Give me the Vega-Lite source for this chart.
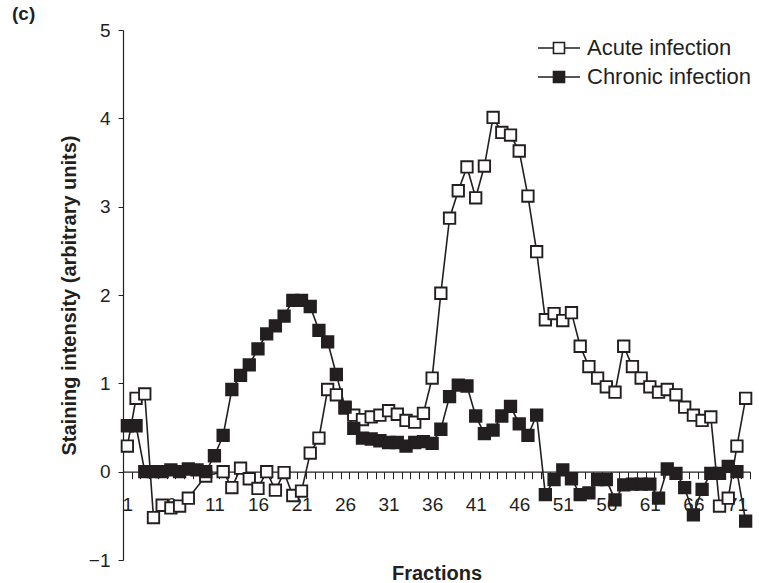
{
  "$schema": "https://vega.github.io/schema/vega-lite/v6.json",
  "width": 627,
  "height": 530,
  "autosize": "none",
  "padding": {"left": 123, "top": 30, "right": 9, "bottom": 23},
  "background": "white",
  "title": {"text": "(c)", "anchor": "start", "frame": "group", "dx": -111, "offset": -3, "fontSize": 19, "font": "Liberation Sans", "fontWeight": "bold", "color": "#231f20"},
  "config": {"view": {"stroke": null}},
  "datasets": {
    "fractions": [
      {"fraction": 1, "series": "Acute infection", "value": 0.29},
      {"fraction": 2, "series": "Acute infection", "value": 0.83},
      {"fraction": 3, "series": "Acute infection", "value": 0.88},
      {"fraction": 4, "series": "Acute infection", "value": -0.52},
      {"fraction": 5, "series": "Acute infection", "value": -0.38},
      {"fraction": 6, "series": "Acute infection", "value": -0.41},
      {"fraction": 7, "series": "Acute infection", "value": -0.39},
      {"fraction": 8, "series": "Acute infection", "value": -0.30},
      {"fraction": 10, "series": "Acute infection", "value": -0.05},
      {"fraction": 12, "series": "Acute infection", "value": 0.0},
      {"fraction": 13, "series": "Acute infection", "value": -0.18},
      {"fraction": 14, "series": "Acute infection", "value": 0.04},
      {"fraction": 15, "series": "Acute infection", "value": -0.08},
      {"fraction": 16, "series": "Acute infection", "value": -0.19},
      {"fraction": 17, "series": "Acute infection", "value": 0.0},
      {"fraction": 18, "series": "Acute infection", "value": -0.21},
      {"fraction": 19, "series": "Acute infection", "value": -0.01},
      {"fraction": 20, "series": "Acute infection", "value": -0.27},
      {"fraction": 21, "series": "Acute infection", "value": -0.22},
      {"fraction": 22, "series": "Acute infection", "value": 0.21},
      {"fraction": 23, "series": "Acute infection", "value": 0.38},
      {"fraction": 24, "series": "Acute infection", "value": 0.93},
      {"fraction": 25, "series": "Acute infection", "value": 0.87},
      {"fraction": 26, "series": "Acute infection", "value": 0.72},
      {"fraction": 27, "series": "Acute infection", "value": 0.64},
      {"fraction": 28, "series": "Acute infection", "value": 0.59},
      {"fraction": 29, "series": "Acute infection", "value": 0.62},
      {"fraction": 30, "series": "Acute infection", "value": 0.64},
      {"fraction": 31, "series": "Acute infection", "value": 0.69},
      {"fraction": 32, "series": "Acute infection", "value": 0.65},
      {"fraction": 33, "series": "Acute infection", "value": 0.58},
      {"fraction": 34, "series": "Acute infection", "value": 0.56},
      {"fraction": 35, "series": "Acute infection", "value": 0.66},
      {"fraction": 36, "series": "Acute infection", "value": 1.06},
      {"fraction": 37, "series": "Acute infection", "value": 2.02},
      {"fraction": 38, "series": "Acute infection", "value": 2.87},
      {"fraction": 39, "series": "Acute infection", "value": 3.18},
      {"fraction": 40, "series": "Acute infection", "value": 3.45},
      {"fraction": 41, "series": "Acute infection", "value": 3.10},
      {"fraction": 42, "series": "Acute infection", "value": 3.46},
      {"fraction": 43, "series": "Acute infection", "value": 4.01},
      {"fraction": 44, "series": "Acute infection", "value": 3.84},
      {"fraction": 45, "series": "Acute infection", "value": 3.81},
      {"fraction": 46, "series": "Acute infection", "value": 3.63},
      {"fraction": 47, "series": "Acute infection", "value": 3.12},
      {"fraction": 48, "series": "Acute infection", "value": 2.49},
      {"fraction": 49, "series": "Acute infection", "value": 1.72},
      {"fraction": 50, "series": "Acute infection", "value": 1.79},
      {"fraction": 51, "series": "Acute infection", "value": 1.71},
      {"fraction": 52, "series": "Acute infection", "value": 1.80},
      {"fraction": 53, "series": "Acute infection", "value": 1.42},
      {"fraction": 54, "series": "Acute infection", "value": 1.19},
      {"fraction": 55, "series": "Acute infection", "value": 1.06},
      {"fraction": 56, "series": "Acute infection", "value": 0.96},
      {"fraction": 57, "series": "Acute infection", "value": 0.90},
      {"fraction": 58, "series": "Acute infection", "value": 1.42},
      {"fraction": 59, "series": "Acute infection", "value": 1.19},
      {"fraction": 60, "series": "Acute infection", "value": 1.06},
      {"fraction": 61, "series": "Acute infection", "value": 0.96},
      {"fraction": 62, "series": "Acute infection", "value": 0.90},
      {"fraction": 63, "series": "Acute infection", "value": 0.93},
      {"fraction": 64, "series": "Acute infection", "value": 0.87},
      {"fraction": 65, "series": "Acute infection", "value": 0.73},
      {"fraction": 66, "series": "Acute infection", "value": 0.64},
      {"fraction": 67, "series": "Acute infection", "value": 0.58},
      {"fraction": 68, "series": "Acute infection", "value": 0.62},
      {"fraction": 69, "series": "Acute infection", "value": -0.39},
      {"fraction": 70, "series": "Acute infection", "value": -0.30},
      {"fraction": 71, "series": "Acute infection", "value": 0.29},
      {"fraction": 72, "series": "Acute infection", "value": 0.83},
      {"fraction": 1, "series": "Chronic infection", "value": 0.52},
      {"fraction": 2, "series": "Chronic infection", "value": 0.52},
      {"fraction": 3, "series": "Chronic infection", "value": 0.0},
      {"fraction": 4, "series": "Chronic infection", "value": 0.0},
      {"fraction": 5, "series": "Chronic infection", "value": 0.0},
      {"fraction": 6, "series": "Chronic infection", "value": 0.02},
      {"fraction": 7, "series": "Chronic infection", "value": 0.0},
      {"fraction": 8, "series": "Chronic infection", "value": 0.03},
      {"fraction": 9, "series": "Chronic infection", "value": 0.02},
      {"fraction": 10, "series": "Chronic infection", "value": 0.0},
      {"fraction": 11, "series": "Chronic infection", "value": 0.18},
      {"fraction": 12, "series": "Chronic infection", "value": 0.41},
      {"fraction": 13, "series": "Chronic infection", "value": 0.93},
      {"fraction": 14, "series": "Chronic infection", "value": 1.09},
      {"fraction": 15, "series": "Chronic infection", "value": 1.21},
      {"fraction": 16, "series": "Chronic infection", "value": 1.39},
      {"fraction": 17, "series": "Chronic infection", "value": 1.56},
      {"fraction": 18, "series": "Chronic infection", "value": 1.65},
      {"fraction": 19, "series": "Chronic infection", "value": 1.76},
      {"fraction": 20, "series": "Chronic infection", "value": 1.94},
      {"fraction": 21, "series": "Chronic infection", "value": 1.94},
      {"fraction": 22, "series": "Chronic infection", "value": 1.87},
      {"fraction": 23, "series": "Chronic infection", "value": 1.60},
      {"fraction": 24, "series": "Chronic infection", "value": 1.47},
      {"fraction": 25, "series": "Chronic infection", "value": 1.10},
      {"fraction": 26, "series": "Chronic infection", "value": 0.73},
      {"fraction": 27, "series": "Chronic infection", "value": 0.49},
      {"fraction": 28, "series": "Chronic infection", "value": 0.38},
      {"fraction": 29, "series": "Chronic infection", "value": 0.37},
      {"fraction": 30, "series": "Chronic infection", "value": 0.35},
      {"fraction": 31, "series": "Chronic infection", "value": 0.33},
      {"fraction": 32, "series": "Chronic infection", "value": 0.33},
      {"fraction": 33, "series": "Chronic infection", "value": 0.29},
      {"fraction": 34, "series": "Chronic infection", "value": 0.33},
      {"fraction": 35, "series": "Chronic infection", "value": 0.34},
      {"fraction": 36, "series": "Chronic infection", "value": 0.32},
      {"fraction": 37, "series": "Chronic infection", "value": 0.48},
      {"fraction": 38, "series": "Chronic infection", "value": 0.85},
      {"fraction": 39, "series": "Chronic infection", "value": 0.98},
      {"fraction": 40, "series": "Chronic infection", "value": 0.97},
      {"fraction": 41, "series": "Chronic infection", "value": 0.63},
      {"fraction": 42, "series": "Chronic infection", "value": 0.43},
      {"fraction": 43, "series": "Chronic infection", "value": 0.47},
      {"fraction": 44, "series": "Chronic infection", "value": 0.63},
      {"fraction": 45, "series": "Chronic infection", "value": 0.74},
      {"fraction": 46, "series": "Chronic infection", "value": 0.54},
      {"fraction": 47, "series": "Chronic infection", "value": 0.41},
      {"fraction": 48, "series": "Chronic infection", "value": 0.64},
      {"fraction": 49, "series": "Chronic infection", "value": -0.26},
      {"fraction": 50, "series": "Chronic infection", "value": -0.09},
      {"fraction": 51, "series": "Chronic infection", "value": 0.02},
      {"fraction": 52, "series": "Chronic infection", "value": -0.08},
      {"fraction": 53, "series": "Chronic infection", "value": -0.26},
      {"fraction": 54, "series": "Chronic infection", "value": -0.24},
      {"fraction": 55, "series": "Chronic infection", "value": -0.09},
      {"fraction": 56, "series": "Chronic infection", "value": -0.09},
      {"fraction": 57, "series": "Chronic infection", "value": -0.32},
      {"fraction": 58, "series": "Chronic infection", "value": -0.15},
      {"fraction": 59, "series": "Chronic infection", "value": -0.14},
      {"fraction": 60, "series": "Chronic infection", "value": -0.14},
      {"fraction": 61, "series": "Chronic infection", "value": -0.14},
      {"fraction": 62, "series": "Chronic infection", "value": -0.30},
      {"fraction": 63, "series": "Chronic infection", "value": 0.03},
      {"fraction": 64, "series": "Chronic infection", "value": -0.02},
      {"fraction": 65, "series": "Chronic infection", "value": -0.18},
      {"fraction": 66, "series": "Chronic infection", "value": -0.49},
      {"fraction": 67, "series": "Chronic infection", "value": -0.20},
      {"fraction": 68, "series": "Chronic infection", "value": -0.02},
      {"fraction": 69, "series": "Chronic infection", "value": -0.02},
      {"fraction": 70, "series": "Chronic infection", "value": 0.06},
      {"fraction": 71, "series": "Chronic infection", "value": 0.0},
      {"fraction": 72, "series": "Chronic infection", "value": -0.56}
    ]
  },
  "data": {"name": "fractions"},
  "layer": [
    {
      "mark": {"type": "line", "stroke": "#231f20", "strokeWidth": 1.6},
      "encoding": {
        "x": {
          "field": "fraction", "type": "quantitative",
          "scale": {"domain": [0.5, 72.5], "nice": false, "zero": false},
          "axis": {
            "orient": "bottom", "offset": -88.33,
            "values": [0.5,1.5,2.5,3.5,4.5,5.5,6.5,7.5,8.5,9.5,10.5,11.5,12.5,13.5,14.5,15.5,16.5,17.5,18.5,19.5,20.5,21.5,22.5,23.5,24.5,25.5,26.5,27.5,28.5,29.5,30.5,31.5,32.5,33.5,34.5,35.5,36.5,37.5,38.5,39.5,40.5,41.5,42.5,43.5,44.5,45.5,46.5,47.5,48.5,49.5,50.5,51.5,52.5,53.5,54.5,55.5,56.5,57.5,58.5,59.5,60.5,61.5,62.5,63.5,64.5,65.5,66.5,67.5,68.5,69.5,70.5,71.5,72.5],
            "labels": false, "tickSize": 7, "tickColor": "#231f20", "tickWidth": 1,
            "domainColor": "#231f20", "domainWidth": 1.2, "title": null, "grid": false
          }
        },
        "y": {
          "field": "value", "type": "quantitative",
          "scale": {"domain": [-1, 5], "nice": false, "zero": false},
          "axis": {
            "values": [-1, 0, 1, 2, 3, 4, 5], "format": "d", "grid": false,
            "tickSize": 5, "tickColor": "#231f20", "domainColor": "#231f20", "domainWidth": 1.2,
            "labelPadding": 8, "labelFontSize": 19, "labelFont": "Liberation Sans", "labelColor": "#231f20",
            "title": "Staining intensity (arbitrary units)", "titleFontSize": 20, "titleFont": "Liberation Sans",
            "titleFontWeight": "bold", "titleColor": "#231f20", "titleX": -54, "titleY": 265, "titleAngle": -90,
            "titleAlign": "center", "titleBaseline": "middle"
          }
        },
        "detail": {"field": "series", "type": "nominal"}
      }
    },
    {
      "mark": {"type": "point", "shape": "square", "filled": true, "size": 130, "stroke": "#231f20", "strokeWidth": 1.9, "opacity": 1},
      "encoding": {
        "x": {
          "field": "fraction", "type": "quantitative",
          "scale": {"domain": [0.5, 72.5], "nice": false, "zero": false},
          "axis": {
            "orient": "bottom", "offset": -88.33,
            "values": [1, 6, 11, 16, 21, 26, 31, 36, 41, 46, 51, 56, 61, 66, 71],
            "ticks": false, "tickSize": 0, "domain": false, "grid": false,
            "labelPadding": 24, "labelFontSize": 19, "labelFont": "Liberation Sans", "labelColor": "#231f20",
            "labelFlush": false, "labelOverlap": false,
            "title": "Fractions", "titleFontSize": 20, "titleFont": "Liberation Sans", "titleFontWeight": "bold",
            "titleColor": "#231f20", "titleY": 108, "titleBaseline": "alphabetic"
          }
        },
        "y": {"field": "value", "type": "quantitative"},
        "fill": {
          "field": "series", "type": "nominal",
          "scale": {"domain": ["Acute infection", "Chronic infection"], "range": ["#ffffff", "#231f20"]},
          "legend": {
            "orient": "none", "legendX": 425, "legendY": 7, "title": null, "padding": 0,
            "symbolType": "M-3.5,0H-0.92M0.92,0H3.5M-0.92,-0.92H0.92V0.92H-0.92Z",
            "symbolSize": 144, "symbolStrokeColor": "#231f20", "symbolStrokeWidth": 1.6, "symbolOpacity": 1,
            "labelFontSize": 22, "labelFont": "Liberation Sans", "labelColor": "#231f20",
            "labelOffset": 17, "rowPadding": 7, "labelLimit": 300
          }
        }
      }
    }
  ],
  "resolve": {"axis": {"x": "independent"}}
}
